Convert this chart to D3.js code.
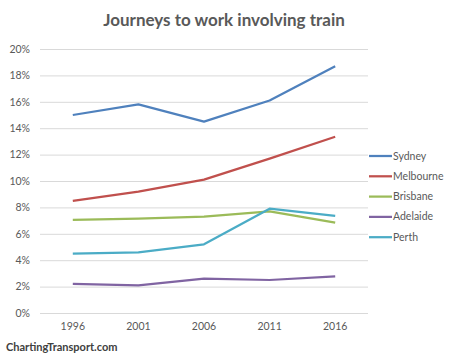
<!DOCTYPE html>
<html><head><meta charset="utf-8">
<script src="https://cdn.jsdelivr.net/npm/d3@7"></script>
<style>body{margin:0;background:#fff}svg{display:block}text{font-family:Lato,"Open Sans",sans-serif}</style>
</head><body>
<svg id="c" width="449" height="357"></svg>
<script>
const years = ["1996","2001","2006","2011","2016"];
const cities = ["Sydney","Melbourne","Brisbane","Adelaide","Perth"];
const colors = ["#4F81BD","#C0504D","#9BBB59","#8064A2","#4BACC6"];
const sydney = [15.0,15.8,14.5,16.1,18.7];
const melbourne = [8.5,9.2,10.1,11.7,13.35];
const brisbane = [7.05,7.15,7.3,7.7,6.85];
const adelaide = [2.2,2.1,2.6,2.5,2.78];
const perth = [4.5,4.6,5.2,7.9,7.35];
const yTicks = [0,2,4,6,8,10,12,14,16,18,20];
const series = [sydney,melbourne,brisbane,adelaide,perth];

const svg = d3.select("#c");
const x = d3.scaleBand().domain(years).range([40,368]);
const y = d3.scaleLinear().domain([0,20]).range([313,49]);

svg.append("text").attr("x",224).attr("y",26).attr("text-anchor","middle")
  .attr("font-size",17).attr("font-weight","bold").attr("fill","#595959")
  .text("Journeys to work involving train");

const ya = svg.append("g").attr("transform","translate(40,0)")
  .call(d3.axisLeft(y).tickValues(yTicks).tickSize(-328).tickPadding(10).tickFormat(d=>d+"%"));
ya.select(".domain").remove();
ya.selectAll("line").attr("stroke","#d9d9d9");
ya.selectAll("text").attr("fill","#595959").attr("font-size",10.5);

const xa = svg.append("g").attr("transform","translate(0,313)")
  .call(d3.axisBottom(x).tickSize(0).tickPadding(10));
xa.select(".domain").remove();
xa.selectAll("text").attr("fill","#595959").attr("font-size",10.5);

const line = d3.line().x((d,i)=>x(years[i])+x.bandwidth()/2).y(d=>y(d));
series.forEach((s,k)=>{
  svg.append("path").datum(s).attr("d",line).attr("fill","none")
    .attr("stroke",colors[k]).attr("stroke-width",2.25).attr("stroke-linejoin","round");
});

const lg = svg.append("g");
cities.forEach((c,k)=>{
  const yy = 156 + k*20.3;
  lg.append("line").attr("x1",369).attr("x2",392).attr("y1",yy).attr("y2",yy)
    .attr("stroke",colors[k]).attr("stroke-width",2.25);
  lg.append("text").attr("x",393).attr("y",yy+3.5).attr("font-size",10.5).attr("fill","#595959").text(c);
});

svg.append("text").attr("x",6).attr("y",351).attr("font-size",11).attr("font-weight","bold")
  .attr("fill","#404040").text("ChartingTransport.com");
</script>
</body></html>
